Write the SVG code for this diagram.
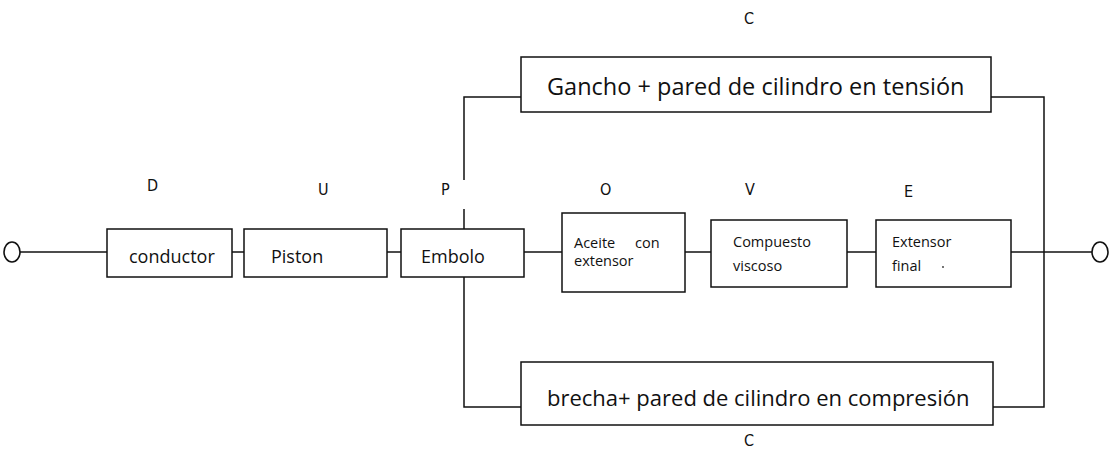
<svg xmlns="http://www.w3.org/2000/svg" width="1112" height="455" viewBox="0 0 1112 455">
  <style>
    .box { fill: #ffffff; stroke: #111111; stroke-width: 1.5; }
    .wire { fill: none; stroke: #111111; stroke-width: 1.5; }
    .term { fill: #ffffff; stroke: #111111; stroke-width: 1.6; }
    .lbl { font-family: "Open Sans", "Liberation Sans", Arial, sans-serif; fill: #111111; }
    .mid { font-size: 18px; }
    .small { font-size: 14.5px; }
    .tag { font-family: "DejaVu Sans Condensed", "DejaVu Sans", sans-serif; font-size: 16px; fill: #111111; }
  </style>
  <rect width="1112" height="455" fill="#ffffff"/>

  <!-- connecting wires -->
  <g id="connectors">
    <line class="wire" x1="20" y1="252" x2="107" y2="252"/>
    <line class="wire" x1="232" y1="252" x2="244" y2="252"/>
    <line class="wire" x1="387" y1="252" x2="401" y2="252"/>
    <line class="wire" x1="524" y1="252" x2="562" y2="252"/>
    <line class="wire" x1="685" y1="252" x2="711" y2="252"/>
    <line class="wire" x1="847" y1="252" x2="876" y2="252"/>
    <line class="wire" x1="1011" y1="252" x2="1092" y2="252"/>
    <!-- upper branch: plunger to tension path -->
    <polyline class="wire" points="521,97 464,97 464,180"/>
    <line class="wire" x1="464" y1="209" x2="464" y2="229"/>
    <!-- lower branch: plunger to compression path -->
    <polyline class="wire" points="464,277 464,407 521,407"/>
    <!-- right bus -->
    <polyline class="wire" points="991,97 1044,97 1044,407 993,407"/>
  </g>

  <!-- terminals -->
  <g id="terminal-left">
    <ellipse class="term" cx="12" cy="252" rx="8" ry="10"/>
  </g>
  <g id="terminal-right">
    <ellipse class="term" cx="1100" cy="252" rx="8" ry="10"/>
  </g>

  <g id="conductor">
    <rect class="box" x="107" y="229" width="125" height="48"/>
    <text class="lbl mid" x="129" y="263">conductor</text>
  </g>
  <g id="piston">
    <rect class="box" x="244" y="229" width="143" height="48"/>
    <text class="lbl mid" x="271" y="263">Piston</text>
  </g>
  <g id="embolo">
    <rect class="box" x="401" y="229" width="123" height="48"/>
    <text class="lbl mid" x="421" y="263">Embolo</text>
  </g>
  <g id="aceite">
    <rect class="box" x="562" y="213" width="123" height="79"/>
    <text class="lbl small" x="574" y="248">Aceite</text>
    <text class="lbl small" x="635" y="248">con</text>
    <text class="lbl small" x="574" y="266">extensor</text>
  </g>
  <g id="compuesto">
    <rect class="box" x="711" y="220" width="136" height="67"/>
    <text class="lbl small" x="733" y="247">Compuesto</text>
    <text class="lbl small" x="733" y="271">viscoso</text>
  </g>
  <g id="extensor">
    <rect class="box" x="876" y="220" width="135" height="67"/>
    <text class="lbl small" x="892" y="247">Extensor</text>
    <text class="lbl small" x="892" y="271">final</text>
    <circle cx="943" cy="267" r="0.9" fill="#333333"/>
  </g>
  <g id="tension">
    <rect class="box" x="521" y="57" width="470" height="55"/>
    <text class="lbl" font-size="23.5" x="547" y="95">Gancho + pared de cilindro en tensión</text>
  </g>
  <g id="compresion">
    <rect class="box" x="521" y="362" width="472" height="63"/>
    <text class="lbl" font-size="22" x="547" y="406">brecha+ pared de cilindro en compresión</text>
  </g>

  <!-- element letters -->
  <g id="letters">
    <text class="tag" x="147" y="191">D</text>
    <text class="tag" x="318" y="195">U</text>
    <text class="tag" x="441" y="195">P</text>
    <text class="tag" x="600" y="195">O</text>
    <text class="tag" x="745" y="195">V</text>
    <text class="tag" x="904" y="197">E</text>
    <text class="tag" x="744" y="24">C</text>
    <text class="tag" x="744" y="446">C</text>
  </g>
</svg>
